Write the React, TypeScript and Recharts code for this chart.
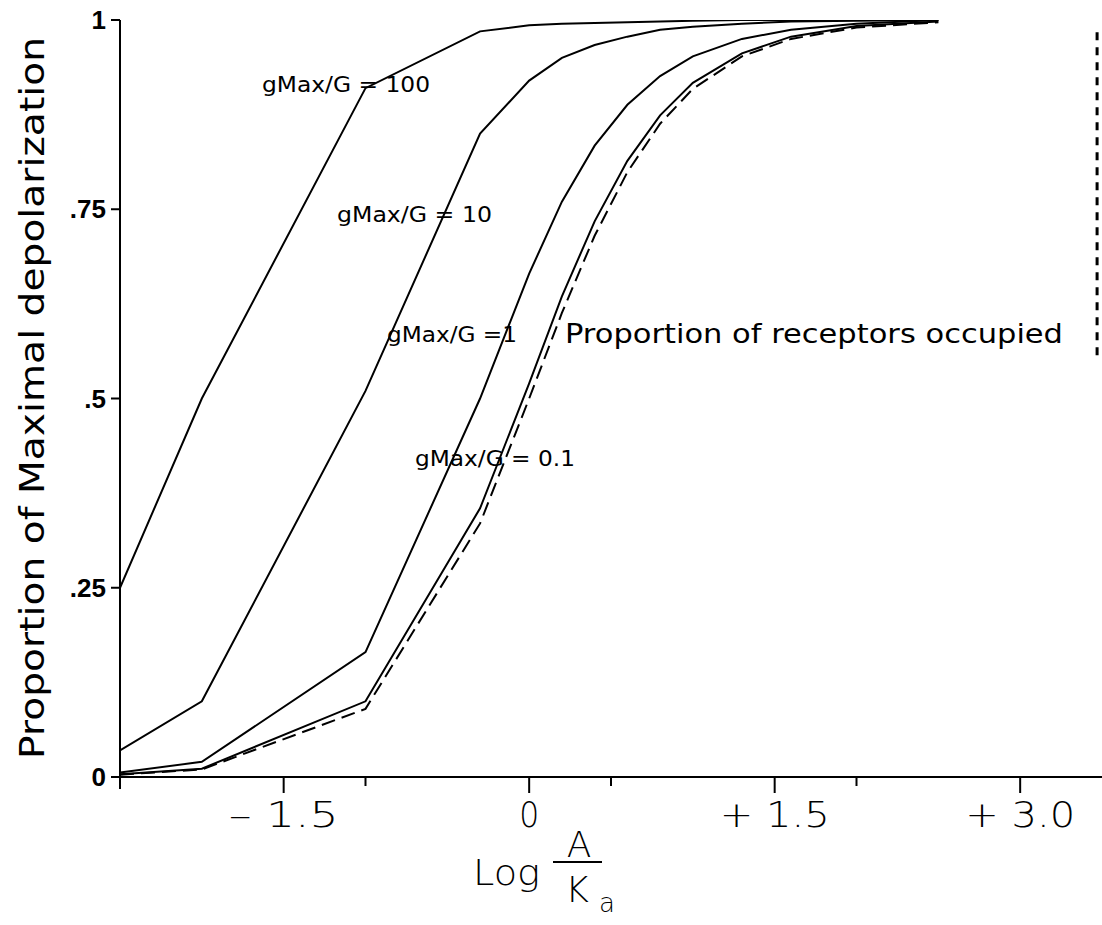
import React from 'react';
import { LineChart, Line, XAxis, YAxis, ReferenceLine } from 'recharts';

// log(A/Ka) sample positions
const LOG_A_KA = [-2.5, -2, -1, -0.3, 0, 0.2, 0.4, 0.6, 0.8, 1.0, 1.3, 1.6, 2.0, 2.5];
// proportion of maximal depolarization for each gMax/G
const G_RATIO_100 = [0.25, 0.5, 0.91, 0.985, 0.993, 0.995, 0.996, 0.997, 0.998, 0.999, 1, 1, 1, 1];
const G_RATIO_10 = [0.035, 0.1, 0.51, 0.85, 0.92, 0.95, 0.967, 0.978, 0.987, 0.991, 0.995, 0.998, 0.999, 1];
const G_RATIO_1 = [0.006, 0.02, 0.165, 0.5, 0.665, 0.76, 0.834, 0.888, 0.926, 0.952, 0.975, 0.987, 0.995, 1];
const G_RATIO_01 = [0.0035, 0.011, 0.1, 0.355, 0.52, 0.635, 0.734, 0.814, 0.874, 0.917, 0.956, 0.978, 0.992, 0.998];
// proportion of receptors occupied
const OCCUPIED = [0.003, 0.01, 0.09, 0.335, 0.5, 0.613, 0.715, 0.799, 0.863, 0.909, 0.952, 0.975, 0.99, 0.997];

const X_MAJOR_TICKS = [-1.5, 0, 1.5, 3.0];
const X_MAJOR_LABELS = ['\u2013 1.5', '0', '+ 1.5', '+ 3.0'];
const X_MINOR_TICKS = [-1, 0.5, 2];
const X_ORIGIN = -2.5;
const Y_TICKS = [0, 0.25, 0.5, 0.75, 1];
const Y_TICK_LABELS = ['0', '.25', '.5', '.75', '1'];

// cut-off dashed marker at the right edge
const EDGE_X = 3.47;
const EDGE_Y = [0.557, 0.99];

const data = LOG_A_KA.map((x, i) => ({
  x,
  g100: G_RATIO_100[i],
  g10: G_RATIO_10[i],
  g1: G_RATIO_1[i],
  g01: G_RATIO_01[i],
  occ: OCCUPIED[i],
}));

const FONT = '"DejaVu Sans", sans-serif';

const XTick = (props: any) => {
  const { x, y, payload } = props;
  const v = payload.value;
  const mi = X_MAJOR_TICKS.indexOf(v);
  if (mi >= 0) {
    const lbl = X_MAJOR_LABELS[mi];
    return (
      <g>
        <line x1={x} y1={y} x2={x} y2={y + 16} stroke="#000" strokeWidth={2} />
        <text
          x={x}
          y={y + 50}
          textAnchor="middle"
          fontFamily={FONT}
          fontSize={36}
          fontWeight={300}
          fill="#000"
          textLength={lbl.length > 1 ? 110 : 20}
          lengthAdjust="spacingAndGlyphs"
        >
          {lbl}
        </text>
      </g>
    );
  }
  const len = v === X_ORIGIN ? 12 : 9;
  return <line x1={x} y1={y} x2={x} y2={y + len} stroke="#000" strokeWidth={2} />;
};

const YTick = (props: any) => {
  const { x, y, payload } = props;
  const idx = Y_TICKS.indexOf(payload.value);
  return (
    <g>
      <line x1={x - 9} y1={y} x2={x} y2={y} stroke="#000" strokeWidth={2} />
      <text
        x={x - 14}
        y={y + 9}
        textAnchor="end"
        fontFamily='"Liberation Sans", Arial, sans-serif'
        fontWeight={700}
        fontSize={26}
        fill="#000"
      >
        {Y_TICK_LABELS[idx]}
      </text>
    </g>
  );
};

const annStyle = { fontFamily: FONT, fill: '#000' } as const;

export default function App() {
  return (
    <div style={{ position: 'absolute', left: 0, top: 0, width: 1102, height: 925, background: '#fff' }}>
      <LineChart
        width={1102}
        height={925}
        data={data}
        margin={{ top: 20, right: 0, bottom: 147, left: 119 }}
      >
        <XAxis
          dataKey="x"
          type="number"
          domain={[-2.5, 3.5]}
          ticks={[X_ORIGIN, ...X_MAJOR_TICKS, ...X_MINOR_TICKS].sort((a, b) => a - b)}
          interval={0}
          height={1}
          tickSize={0}
          tickMargin={0}
          tickLine={false}
          axisLine={{ stroke: '#000', strokeWidth: 2 }}
          tick={<XTick />}
          allowDataOverflow
        />
        <YAxis
          type="number"
          domain={[0, 1]}
          ticks={Y_TICKS}
          interval={0}
          width={1}
          tickSize={0}
          tickMargin={0}
          tickLine={false}
          axisLine={{ stroke: '#000', strokeWidth: 2 }}
          tick={<YTick />}
          allowDataOverflow
        />
        <ReferenceLine
          segment={[{ x: EDGE_X, y: EDGE_Y[0] }, { x: EDGE_X, y: EDGE_Y[1] }]}
          stroke="#000"
          strokeWidth={3}
          strokeDasharray="8 7"
          ifOverflow="visible"
        />
        <Line dataKey="g100" type="linear" stroke="#000" strokeWidth={2} dot={false} isAnimationActive={false} />
        <Line dataKey="g10" type="linear" stroke="#000" strokeWidth={2} dot={false} isAnimationActive={false} />
        <Line dataKey="g1" type="linear" stroke="#000" strokeWidth={2} dot={false} isAnimationActive={false} />
        <Line dataKey="g01" type="linear" stroke="#000" strokeWidth={2} dot={false} isAnimationActive={false} />
        <Line dataKey="occ" type="linear" stroke="#000" strokeWidth={2} strokeDasharray="14 7" dot={false} isAnimationActive={false} />
      </LineChart>
      <svg
        width={1102}
        height={925}
        style={{ position: 'absolute', left: 0, top: 0, pointerEvents: 'none' }}
      >
        <text
          transform="translate(44,398) rotate(-90)"
          textAnchor="middle"
          fontSize={33}
          textLength={722}
          lengthAdjust="spacingAndGlyphs"
          {...annStyle}
        >
          Proportion of Maximal depolarization
        </text>
        <text x={262} y={92} fontSize={21} textLength={168} lengthAdjust="spacingAndGlyphs" {...annStyle}>gMax/G = 100</text>
        <text x={337} y={222} fontSize={21} textLength={155} lengthAdjust="spacingAndGlyphs" {...annStyle}>gMax/G = 10</text>
        <text x={387} y={342} fontSize={21} textLength={130} lengthAdjust="spacingAndGlyphs" {...annStyle}>gMax/G =1</text>
        <text x={415} y={466} fontSize={21} textLength={160} lengthAdjust="spacingAndGlyphs" {...annStyle}>gMax/G = 0.1</text>
        <text x={565} y={343} fontSize={26} textLength={498} lengthAdjust="spacingAndGlyphs" {...annStyle}>Proportion of receptors occupied</text>
        <text x={473} y={885} fontSize={36} fontWeight={300} textLength={67} lengthAdjust="spacingAndGlyphs" {...annStyle}>Log</text>
        <text x={579} y={857} textAnchor="middle" fontSize={36} fontWeight={300} {...annStyle}>A</text>
        <line x1={553} y1={862} x2={602} y2={862} stroke="#000" strokeWidth={2} />
        <text x={577} y={902} textAnchor="middle" fontSize={36} fontWeight={300} {...annStyle}>K</text>
        <text x={599} y={912} fontSize={26} fontWeight={300} {...annStyle}>a</text>
      </svg>
    </div>
  );
}
